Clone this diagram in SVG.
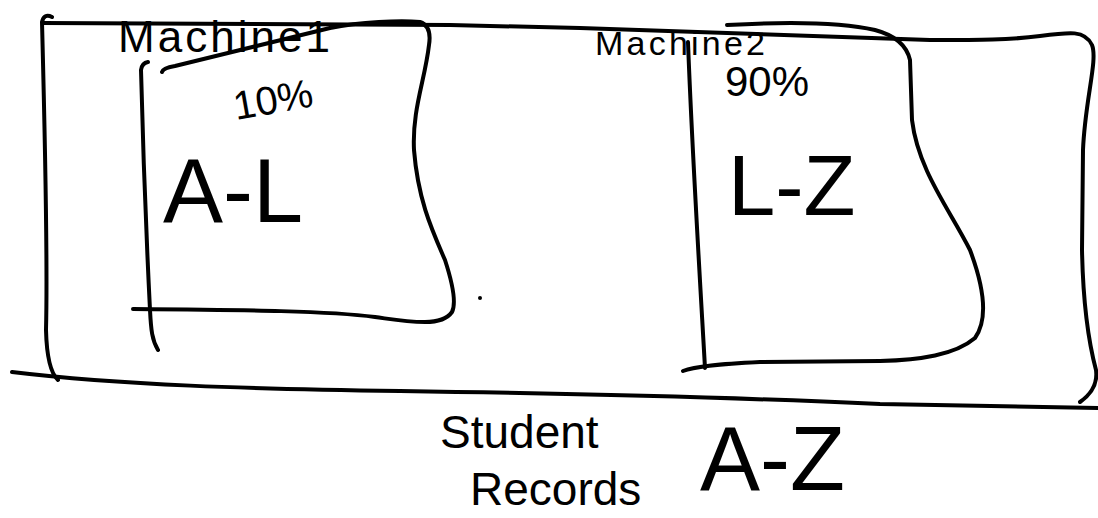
<svg xmlns="http://www.w3.org/2000/svg" width="1098" height="518" viewBox="0 0 1098 518">
<style>
.ink{fill:none;stroke:#000;stroke-width:4;stroke-linecap:round;stroke-linejoin:round}
.t{font-family:"Liberation Sans","DejaVu Sans",sans-serif;fill:#000}
</style>
<rect width="1098" height="518" fill="#fff"/>
<g id="student-records">
<path class="ink" d="M52,17 Q44,13 42,22 C44,100 48,250 46,330 Q47,370 58,380"/>
<path class="ink" d="M43,23 L450,25 L580,28 L930,40 C980,40 1010,40 1040,36 C1070,32 1085,30 1092,45 C1098,60 1085,100 1083,150 L1082,250 C1083,300 1088,340 1096,370 C1098,385 1090,395 1080,402"/>
<path class="ink" d="M12,372 C120,385 250,389 400,391 C600,394 750,398 880,404 L1098,408"/>
<text class="t" x="440" y="448" font-size="46">Student</text>
<text class="t" x="470" y="505" font-size="46">Records</text>
<text class="t" x="700" y="490" font-size="90">A-Z</text>
</g>
<g id="machine1">
<path class="ink" d="M148,62 Q142,63 141,70 C143,150 147,250 150,310 C151,330 152,340 158,350"/>
<path class="ink" d="M162,72 Q163,68 175,66 L330,28 C360,22 400,20 420,22 Q432,26 429,45 C425,80 412,110 414,150 C418,200 432,230 445,260 Q458,300 452,312 Q445,322 425,322 C405,322 390,319 375,317 C330,311 250,310 133,309"/>
<text class="t" x="118" y="52" font-size="44" textLength="212">Machine1</text>
<text class="t" x="236" y="120" font-size="40" transform="rotate(-10 236 120)">10%</text>
<text class="t" x="163" y="222" font-size="90">A-L</text>
</g>
<g id="machine2">
<path class="ink" d="M688,42 C692,150 700,280 705,368"/>
<path class="ink" d="M727,25 C780,22 840,22 875,30 Q905,38 910,60 L912,120 C918,170 950,210 970,250 C985,290 988,320 975,338 C955,355 920,360 880,361 L760,362 C720,364 695,366 683,371"/>
<text class="t" x="595" y="55" font-size="34" textLength="170">Machine2</text>
<text class="t" x="725" y="96" font-size="42">90%</text>
<text class="t" x="728" y="215" font-size="85">L-Z</text>
</g>
<circle cx="480" cy="298" r="2" fill="#000"/>
</svg>
